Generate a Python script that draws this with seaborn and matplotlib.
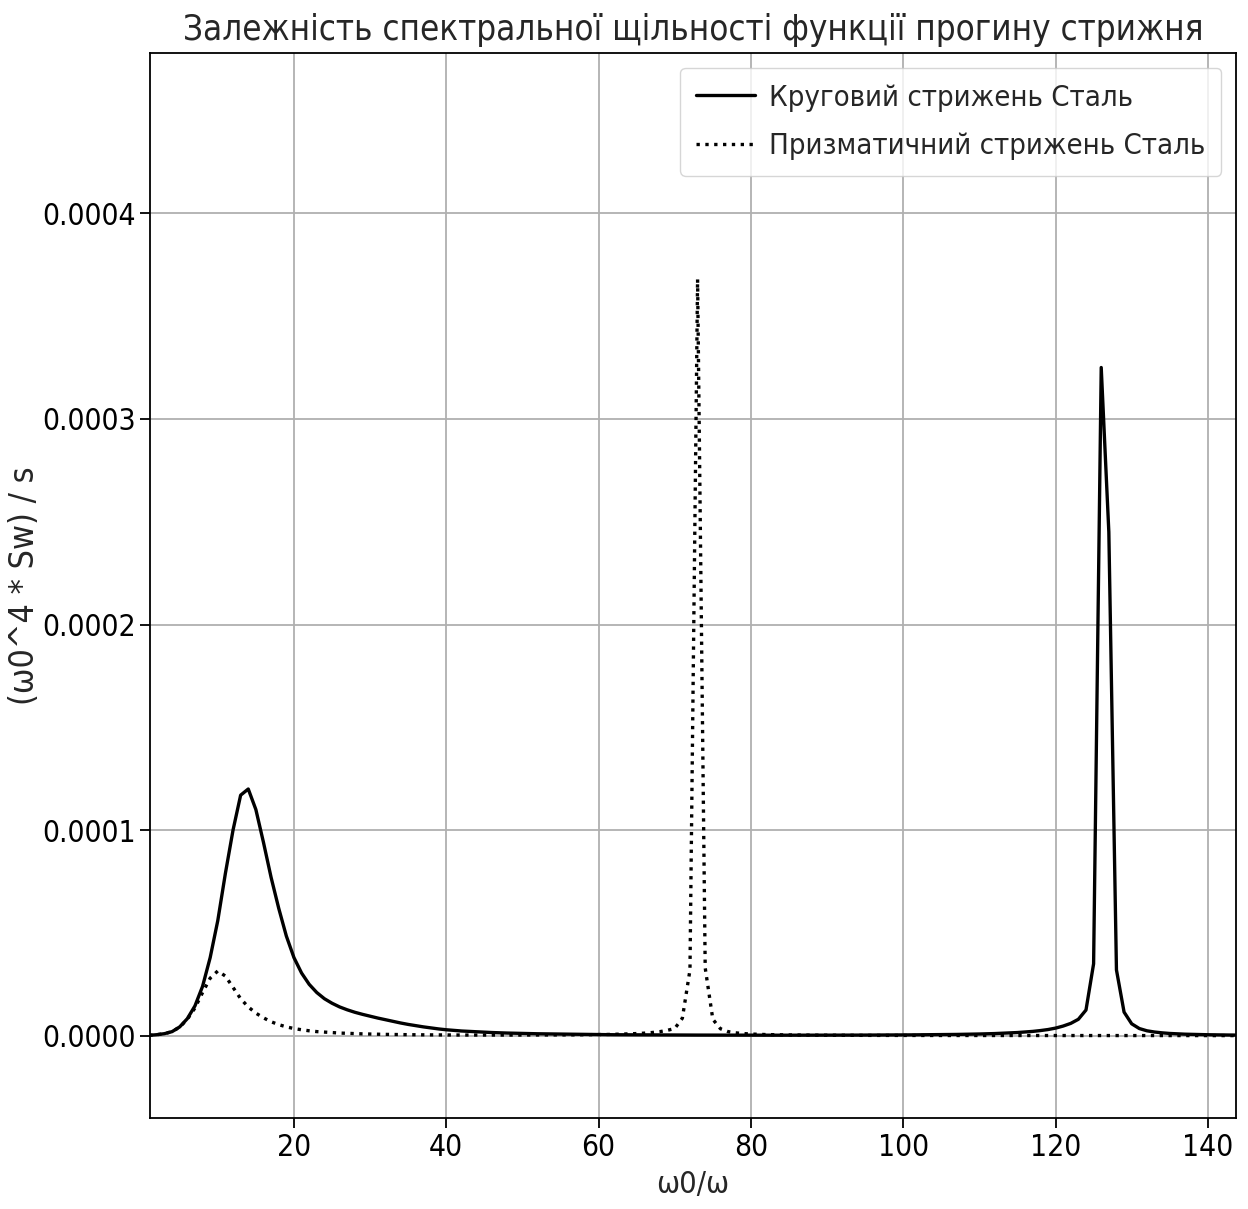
import numpy as np
import pandas as pd
import matplotlib
matplotlib.use("Agg")
import matplotlib.pyplot as plt
from matplotlib.ticker import FormatStrFormatter, MultipleLocator
import seaborn as sns

# ---------------- data (values in units of 1e-6) ----------------
UNIT = 1e-6
freq_ratio = list(range(1, 145))

circular_steel = [
    0.2, 0.5, 1.0, 2.0, 4.3, 8.3, 14.5, 24, 38, 56,
    79, 100, 117, 120, 110, 94, 77, 62, 48.5, 38,
    30.5, 25, 21, 18, 15.8, 14, 12.6, 11.4, 10.4, 9.5,
    8.6, 7.8, 7.0, 6.2, 5.5, 4.9, 4.3, 3.8, 3.3, 2.9,
    2.6, 2.3, 2.1, 1.9, 1.7, 1.55, 1.4, 1.3, 1.2, 1.1,
    1.0, 0.95, 0.9, 0.85, 0.8, 0.75, 0.7, 0.65, 0.6, 0.55,
    0.5, 0.48, 0.46, 0.44, 0.42, 0.4, 0.38, 0.36, 0.35, 0.34,
    0.33, 0.32, 0.31, 0.3, 0.29, 0.28, 0.27, 0.27, 0.26, 0.26,
    0.25, 0.25, 0.25, 0.25, 0.25, 0.25, 0.25, 0.26, 0.26, 0.27,
    0.27, 0.28, 0.29, 0.3, 0.31, 0.32, 0.33, 0.35, 0.37, 0.39,
    0.41, 0.44, 0.47, 0.5, 0.54, 0.58, 0.63, 0.69, 0.76, 0.84,
    0.93, 1.05, 1.2, 1.35, 1.55, 1.8, 2.1, 2.5, 3.0, 3.7,
    4.7, 6.0, 8.0, 12.5, 35, 325,
    245, 32, 11.5, 5.8, 3.5, 2.4, 1.8, 1.4, 1.1, 0.9,
    0.75, 0.65, 0.55, 0.48, 0.42, 0.37, 0.33, 0.3,
]

prismatic_steel = [
    0.2, 0.5, 1.0, 2.0, 4.2, 8.0, 13.5, 21, 28, 31.5,
    29, 23.5, 18, 14, 11, 8.7, 6.8, 5.4, 4.3, 3.5,
    2.9, 2.4, 2.0, 1.75, 1.5, 1.3, 1.15, 1.0, 0.9, 0.8,
    0.72, 0.65, 0.59, 0.54, 0.5, 0.46, 0.43, 0.4, 0.38, 0.36,
    0.34, 0.33, 0.32, 0.31, 0.3, 0.3, 0.3, 0.3, 0.31, 0.32,
    0.32, 0.33, 0.34, 0.36, 0.38, 0.4, 0.43, 0.46, 0.5, 0.55,
    0.6, 0.68, 0.78, 0.9, 1.05, 1.25, 1.55, 1.95, 2.6, 3.5,
    8.5, 32, 368, 33, 8, 3.4,
    2.0, 1.4, 1.05, 0.82, 0.67, 0.56, 0.48, 0.42, 0.37, 0.33,
    0.3, 0.27, 0.25, 0.23, 0.21, 0.2, 0.19, 0.18, 0.17, 0.16,
    0.15, 0.15, 0.14, 0.14, 0.13, 0.13, 0.12, 0.12, 0.12, 0.11,
    0.11, 0.11, 0.1, 0.1, 0.1, 0.1, 0.1, 0.1, 0.1, 0.1,
    0.1, 0.1, 0.1, 0.11, 0.11, 0.12, 0.12, 0.12, 0.12, 0.12,
    0.11, 0.11, 0.1, 0.1, 0.1, 0.09, 0.09, 0.09, 0.08, 0.08,
    0.08, 0.08, 0.07, 0.07, 0.07, 0.07, 0.06, 0.06,
]

series_labels = ["Круговий стрижень Сталь", "Призматичний стрижень Сталь"]
title_text = "Залежність спектральної щільності функції прогину стрижня"
x_label = "ω0/ω"
y_label = "(ω0^4 * Sw) / s"

assert len(circular_steel) == len(freq_ratio) == len(prismatic_steel)

df = pd.DataFrame({
    "x": freq_ratio,
    "circ": np.array(circular_steel) * UNIT,
    "prism": np.array(prismatic_steel) * UNIT,
})

# ---------------- style ----------------
sns.set_theme(style="ticks")
plt.rcParams["font.family"] = ["DejaVu Sans"]
plt.rcParams["font.stretch"] = "condensed"

fig = plt.figure(figsize=(12.48, 12.09), dpi=100)
ax = fig.add_axes([0.1202, 0.0753, 0.8702, 0.8809])

sns.lineplot(data=df, x="x", y="circ", ax=ax, color="black", linewidth=2.4,
             label=series_labels[0])
sns.lineplot(data=df, x="x", y="prism", ax=ax, color="black", linewidth=2.4,
             linestyle=":", label=series_labels[1])

ax.set_xlim(1.1, 143.7)
ax.set_ylim(-0.00004, 0.000478)
ax.xaxis.set_major_locator(MultipleLocator(20))
ax.yaxis.set_major_locator(MultipleLocator(0.0001))
ax.yaxis.set_major_formatter(FormatStrFormatter("%.4f"))

ax.grid(True, color="#b0b0b0", linewidth=1.3)
ax.set_axisbelow(True)
for sp in ax.spines.values():
    sp.set_color("black")
    sp.set_linewidth(1.3)
ax.tick_params(axis="both", labelsize=21.5, length=7, width=1.3, color="black",
               labelcolor="black")

ax.set_title(title_text, fontsize=25, pad=9)
ax.set_xlabel(x_label, fontsize=22, labelpad=6)
ax.set_ylabel(y_label, fontsize=24.5)
ax.yaxis.set_label_coords(-0.100, 0.5)

leg = ax.legend(loc="upper right", fontsize=21, frameon=True, fancybox=True,
                edgecolor="#cccccc", framealpha=0.8, handlelength=2.0,
                handletextpad=0.5, labelspacing=0.7, borderpad=0.55)

fig.savefig("out.png", dpi=100)
